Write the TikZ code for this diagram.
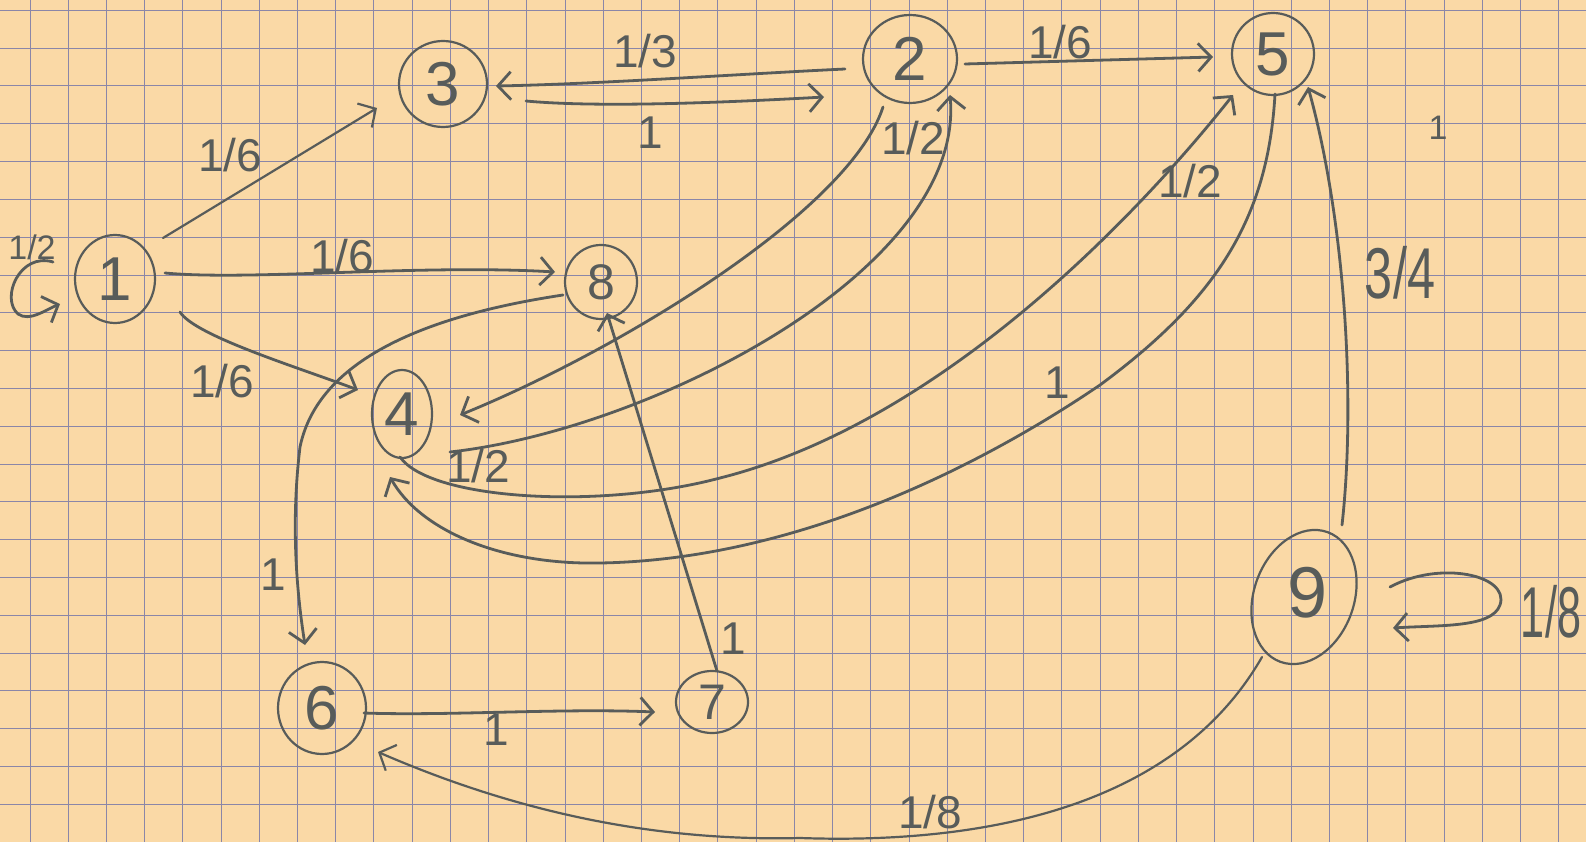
\documentclass[tikz,border=0pt]{standalone}
\usepackage{fontspec}
\setmainfont{Liberation Sans}
\usetikzlibrary{arrows.meta,shapes.geometric,calc}
\definecolor{paper}{RGB}{250,217,166}
\definecolor{gridc}{RGB}{138,134,168}
\definecolor{pencil}{RGB}{88,92,90}
\begin{document}
\begin{tikzpicture}[x=1pt,y=-1pt,
  vert/.style={draw=pencil, line width=2.2pt, ellipse, inner sep=0pt, text=pencil, font=\fontsize{62}{62}\selectfont},
  digit/.style={text=pencil, inner sep=0pt, font=\fontsize{62}{62}\selectfont},
  edge/.style={draw=pencil, line width=2.8pt, line cap=round, line join=round, -{Straight Barb[length=13pt,width=28pt]}},
  thinedge/.style={edge, line width=2.2pt},
  lab/.style={text=pencil, inner sep=0pt, font=\fontsize{46}{46}\selectfont},
  smalllab/.style={lab, font=\fontsize{34}{34}\selectfont},
  biglab/.style={lab, font=\fontsize{72}{72}\selectfont},
  gridline/.style={draw=gridc, line width=1pt}]
\useasboundingbox (0,0) rectangle (1586,842);
\fill[paper] (0,0) rectangle (1586,842);
% grid paper
\foreach \k in {0,...,40} \draw[gridline] ({30+38.22*\k},0) -- ({30+38.22*\k},842);
\foreach \j in {0,...,22} \draw[gridline] (0,{10.4+37.8*\j}) -- (1586,{10.4+37.8*\j});

% states
\node[vert, minimum width=80pt, minimum height=88pt] (n1) at (115,279) {1};
\node[vert, minimum width=94pt, minimum height=88pt] (n2) at (910,59) {2};
\node[vert, minimum width=88pt, minimum height=86pt] (n3) at (443,84) {3};
\node[vert, minimum width=60pt, minimum height=88pt] (n4) at (402,414) {4};
\node[vert, minimum width=82pt, minimum height=82pt] (n5) at (1273,54) {5};
\node[vert, minimum width=88pt, minimum height=92pt] (n6) at (322,708) {6};
\node[vert, minimum width=72pt, minimum height=62pt, font=\fontsize{50}{50}\selectfont] (n7) at (712,702) {7};
\node[vert, minimum width=72pt, minimum height=74pt, font=\fontsize{50}{50}\selectfont] (n8) at (601,282) {8};
\node[vert, minimum width=100pt, minimum height=138pt, rotate=-20] (n9) at (1304,597) {};
\node[digit, font=\fontsize{72}{72}\selectfont] (t9) at ($(n9)+(4,-4)$) {9};

% transitions
\draw[edge] ($(n1)+(-62,-17)$) .. controls (20,252) and (0,298) .. (18,314) .. controls (30,322) and (45,310) .. ($(n1)+(-55,25)$);
\draw[thinedge] ($(n1)+(48,-41)$) -- ($(n3)+(-66,24)$);
\draw[edge] ($(n1)+(50,-6)$) .. controls (250,281) and (420,264) .. ($(n8)+(-46,-10)$);
\draw[edge] ($(n1)+(65,33)$) .. controls (195,336) and (300,368) .. ($(n4)+(-44,-24)$);
\draw[edge] ($(n3)+(83,17)$) .. controls (590,107) and (700,104) .. ($(n2)+(-86,38)$);
\draw[edge] ($(n2)+(-65,10)$) .. controls (740,74) and (600,84) .. ($(n3)+(53,2)$);
\draw[edge] ($(n2)+(55,5)$) -- ($(n5)+(-60,3)$);
\draw[edge] ($(n2)+(-27,48)$) .. controls (850,210) and (620,350) .. ($(n4)+(58,1)$);
\draw[edge] ($(n4)+(48,38)$) .. controls (650,430) and (965,270) .. ($(n2)+(40,36)$);
\draw[edge] ($(n4)+(-2,43)$) .. controls (430,500) and (600,510) .. (720,478) .. controls (950,420) and (1150,200) .. ($(n5)+(-40,41)$);
\draw[edge] ($(n5)+(2,40)$) .. controls (1268,220) and (1215,300) .. (1100,385) .. controls (960,480) and (780,560) .. (600,563) .. controls (500,565) and (420,530) .. ($(n4)+(-12,63)$);
\draw[edge] ($(n8)+(-38,13)$) .. controls (450,312) and (320,350) .. (300,447) .. controls (290,530) and (298,600) .. ($(n6)+(-17,-63)$);
\draw[edge] ($(n6)+(42,5)$) .. controls (450,716) and (560,708) .. ($(n7)+(-57,10)$);
\draw[edge] ($(n7)+(5,-31)$) -- ($(n8)+(6,31)$);
\draw[edge] ($(n9)+(38,-72)$) .. controls (1356,400) and (1345,220) .. ($(n5)+(35,33)$);
\draw[edge] ($(n9)+(86,-10)$) .. controls (1440,560) and (1510,575) .. (1500,605) .. controls (1492,628) and (1440,625) .. ($(n9)+(89,31)$);
\draw[thinedge] ($(n9)+(-42,60)$) .. controls (1180,800) and (1000,845) .. (800,838) .. controls (640,842) and (500,805) .. ($(n6)+(56,44)$);

% labels
\node[smalllab] (l11) at (32,247) {1/2};
\node[lab] (l13) at (230,155) {1/6};
\node[lab] (l18) at (342,256) {1/6};
\node[lab] (l14) at (222,381) {1/6};
\node[lab] (l23) at (645,51) {1/3};
\node[lab] (l32) at (650,133) {1};
\node[lab] (l25) at (1060,42) {1/6};
\node[lab] (l24) at (913,138) {1/2};
\node[lab] (l42) at (478,466) {1/2};
\node[lab] (l45) at (1190,181) {1/2};
\node[lab] (l54) at (1057,383) {1};
\node[lab] (l86) at (273,575) {1};
\node[lab] (l67) at (496,730) {1};
\node[lab] (l78) at (733,639) {1};
\node[biglab] (l95) at (1400,273) {\scalebox{0.7}[1]{3/4}};
\node[biglab] (l99) at (1551,612) {\scalebox{0.6}[1]{1/8}};
\node[lab] (l96) at (930,812) {1/8};
\node[smalllab] (lx) at (1438,128) {1};
\end{tikzpicture}
\end{document}
